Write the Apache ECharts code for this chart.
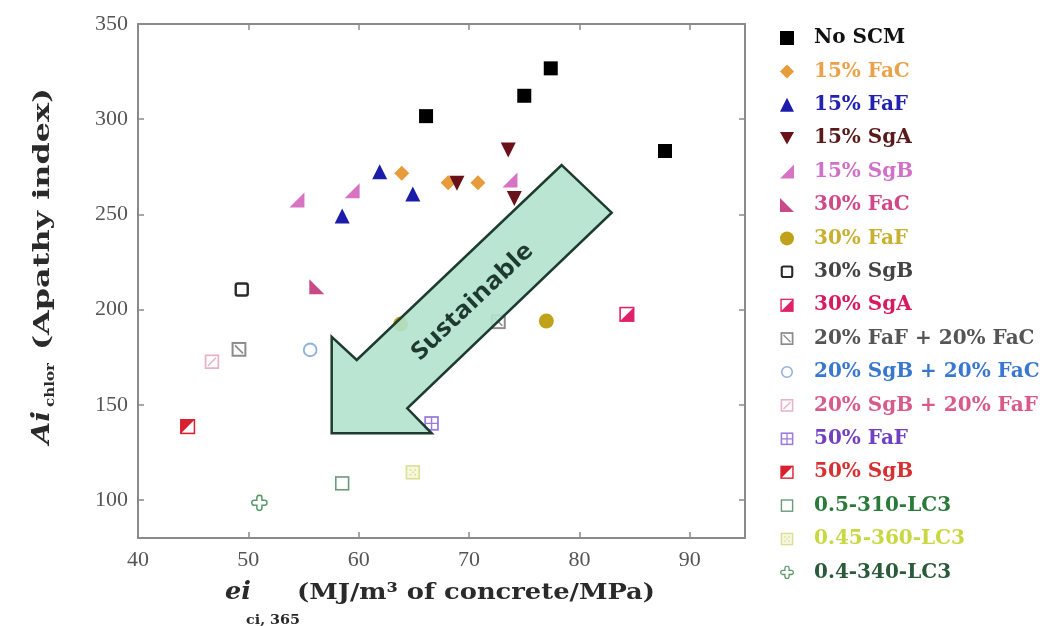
<!DOCTYPE html>
<html><head><meta charset="utf-8">
<script src="https://cdn.jsdelivr.net/npm/echarts@6/dist/echarts.min.js"></script>
<style>html,body{margin:0;padding:0;background:#fff}#c{width:1047px;height:626px}</style>
</head><body><div id="c"></div>
<script>
// ---------- data ----------
const seriesNames = ['No SCM','15% FaC','15% FaF','15% SgA','15% SgB','30% FaC','30% FaF','30% SgB','30% SgA',
  '20% FaF + 20% FaC','20% SgB + 20% FaC','20% SgB + 20% FaF','50% FaF','50% SgB','0.5-310-LC3','0.45-360-LC3','0.4-340-LC3'];
const noSCM      = [[66.1,301.6],[75.0,312.3],[77.4,326.7],[87.75,283.3]];
const faC15      = [[63.9,271.6],[68.1,266.6],[70.8,266.6]];
const faF15      = [[61.9,272.4],[64.9,260.7],[58.5,249.1]];
const sgA15      = [[73.55,283.8],[68.9,266.3],[74.1,258.4]];
const sgB15      = [[54.4,257.5],[59.4,262.4],[73.7,268.1]];
const faC30      = [[56.2,212.0]];
const faF30      = [[63.8,192.4],[77.0,194.0]];
const sgB30      = [[49.4,210.5]];
const sgA30      = [[84.3,197.5]];
const faF20faC20 = [[49.15,179.1],[72.65,193.6]];
const sgB20faC20 = [[55.6,178.8]];
const sgB20faF20 = [[46.7,172.6]];
const faF50      = [[66.6,140.2]];
const sgB50      = [[44.5,138.5]];
const lc3a       = [[58.5,108.7]];
const lc3b       = [[64.9,114.5]];
const lc3c       = [[51.0,98.5]];
const xTicks = [40,50,60,70,80,90];
const yTicks = [100,150,200,250,300,350];
// annotation arrow (data coordinates)
const arrowPts = [[78.39,275.9],[82.92,250.9],[64.40,148.1],[66.61,135.0],[57.55,135.0],[57.55,185.7],[59.82,173.5]];
const arrowLabel = 'Sustainable';
const arrowLabelAt = [70.3,204.1];

// ---------- symbols ----------
const SVG = body => 'image://data:image/svg+xml;charset=utf-8,' + encodeURIComponent(
  '<svg xmlns="http://www.w3.org/2000/svg" width="40" height="40" viewBox="0 0 20 20">' + body + '</svg>');
const sym = {
  sgB30: SVG('<rect x="2.5" y="2.5" width="15" height="15" rx="2.5" fill="#fff" stroke="#2a2a2a" stroke-width="3"/>'),
  sgA30: SVG('<rect x="1.5" y="1.5" width="17" height="17" fill="#fff" stroke="#e0206a" stroke-width="2"/><path d="M18.5 1.5 L18.5 18.5 L1.5 18.5 Z" fill="#e0206a"/>'),
  faF20faC20: SVG('<rect x="2" y="2" width="16" height="16" fill="#fff" stroke="#8c8c8c" stroke-width="2.5"/><path d="M5 5 L15 15" stroke="#8c8c8c" stroke-width="2"/>'),
  sgB20faC20: SVG('<circle cx="10" cy="10" r="7.5" fill="#fff" stroke="#8fb0dc" stroke-width="2.2"/>'),
  sgB20faF20: SVG('<rect x="2" y="2" width="16" height="16" fill="#fff" stroke="#eab2c8" stroke-width="2.2"/><path d="M5 15 L15 5" stroke="#eab2c8" stroke-width="2"/>'),
  faF50: SVG('<rect x="2" y="2" width="16" height="16" fill="#fff" stroke="#9a7ae0" stroke-width="2.2"/><path d="M10 2 V18 M2 10 H18" stroke="#9a7ae0" stroke-width="1.8"/>'),
  sgB50: SVG('<rect x="1.5" y="1.5" width="17" height="17" fill="#fff" stroke="#d8202e" stroke-width="2"/><path d="M1.5 1.5 L18.5 1.5 L1.5 18.5 Z" fill="#d8202e"/>'),
  lc3a: SVG('<rect x="2" y="2" width="16" height="16" fill="#fff" stroke="#6a9a7a" stroke-width="2"/>'),
  lc3b: SVG('<rect x="2" y="2" width="16" height="16" fill="#f6f8de" stroke="#d9e096" stroke-width="2"/><g fill="#d9e096"><circle cx="7" cy="7" r="1.2"/><circle cx="13" cy="7" r="1.2"/><circle cx="7" cy="13" r="1.2"/><circle cx="13" cy="13" r="1.2"/><circle cx="10" cy="10" r="1.2"/></g>'),
  lc3c: SVG('<path d="M7 7 V4 A3 3 0 0 1 13 4 V7 H16 A3 3 0 0 1 16 13 H13 V16 A3 3 0 0 1 7 16 V13 H4 A3 3 0 0 1 4 7 Z" fill="#fff" stroke="#5a9a6a" stroke-width="1.8"/>')
};

const seriesDefs = [
  [noSCM, 'rect', '#000000', 14],
  [faC15, 'diamond', '#e89b3a', 15],
  [faF15, 'triangle', '#1c1caa', 15],
  [sgA15, 'path://M0,0 L10,0 L5,9 Z', '#6a1018', 15],
  [sgB15, 'path://M10,0 L10,10 L0,10 Z', '#d872c2', 15],
  [faC30, 'path://M0,0 L0,10 L10,10 Z', '#c94a88', 15],
  [faF30, 'circle', '#bfa21a', 15],
  [sgB30, sym.sgB30, '#2a2a2a', 16],
  [sgA30, sym.sgA30, '#e0206a', 16],
  [faF20faC20, sym.faF20faC20, '#8c8c8c', 16],
  [sgB20faC20, sym.sgB20faC20, '#8fb0dc', 17],
  [sgB20faF20, sym.sgB20faF20, '#eab2c8', 16],
  [faF50, sym.faF50, '#9a7ae0', 16],
  [sgB50, sym.sgB50, '#d8202e', 16],
  [lc3a, sym.lc3a, '#6a9a7a', 16],
  [lc3b, sym.lc3b, '#d9e096', 16],
  [lc3c, sym.lc3c, '#5a9a6a', 17]
];
const legendColors = ['#111111','#eaa24a','#2222b0','#5a1a1a','#d070c8','#d04888','#c8b030','#444444','#d81b60',
  '#555555','#3a78d0','#d85a8a','#7040c0','#d83030','#2a7a3a','#c8d840','#2a5a3a'];

// ---------- chart ----------
const chart = echarts.init(document.getElementById('c'), null, {renderer:'canvas'});
const axisColor = '#8a8a8a';
const tickStyle = (vals) => ({show:true, inside:true, length:6, customValues:vals, lineStyle:{color:axisColor, width:1.5}});
const lineStyle = {show:true, lineStyle:{color:axisColor, width:2}};
const labelFont = {fontFamily:'"Liberation Serif", serif', fontSize:22, color:'#555'};

chart.setOption({
  animation:false,
  backgroundColor:'#fff',
  grid:{left:138, top:24, right:302, bottom:88, containLabel:false},
  xAxis:[
    {type:'value', min:40, max:95, position:'bottom', axisLine:lineStyle, axisTick:tickStyle(xTicks),
     axisLabel:Object.assign({margin:11, customValues:xTicks}, labelFont), splitLine:{show:false}},
    {type:'value', min:40, max:95, position:'top', axisLine:lineStyle, axisTick:tickStyle(xTicks),
     axisLabel:{show:false}, splitLine:{show:false}}
  ],
  yAxis:[
    {type:'value', min:80, max:350, position:'left', axisLine:lineStyle, axisTick:tickStyle(yTicks),
     axisLabel:Object.assign({margin:10, customValues:yTicks}, labelFont), splitLine:{show:false}},
    {type:'value', min:80, max:350, position:'right', axisLine:lineStyle, axisTick:tickStyle(yTicks),
     axisLabel:{show:false}, splitLine:{show:false}}
  ],
  legend:{
    orient:'vertical', left:775, top:23, itemWidth:14, itemHeight:14, itemGap:13.4, selectedMode:false,
    textStyle:{fontFamily:'"DejaVu Serif", serif', fontWeight:'bold', fontSize:20, lineHeight:20, padding:[0,0,0,15]},
    data: seriesNames.map((n,i)=>({name:n, textStyle:{color:legendColors[i]}}))
  },
  series: seriesDefs.map((d,i)=>({
    type:'scatter', name:seriesNames[i], data:d[0], symbol:d[1], symbolSize:d[3],
    itemStyle:{color:d[2], opacity:1}, z:2
  }))
});

// ---------- annotations ----------
const px = p => chart.convertToPixel({xAxisIndex:0, yAxisIndex:0}, p);
const mctx = document.createElement('canvas').getContext('2d');
const tw = (t, f) => { mctx.font = f; return mctx.measureText(t).width; };
const fit = (t, f, w) => w / tw(t, f);

const poly = arrowPts.map(px);
const lc = px(arrowLabelAt);
const pa = px(arrowPts[6]), pb = px(arrowPts[0]);
const ang = Math.atan2(pa[1]-pb[1], pb[0]-pa[0]);
const sFont = 'bold 24px "Open Sans"';

const fAi = 'italic bold 24px "DejaVu Serif"';
const fSub = 'bold 13px "DejaVu Serif"';
const fMain = 'bold 22px "DejaVu Serif"';
const yMain = '(Apathy index)';
const xMain = '(MJ/m\u00b3 of concrete/MPa)';

chart.setOption({
  graphic:[
    {type:'polygon', z:10, shape:{points:poly},
     style:{fill:'rgba(178,226,205,0.9)', stroke:'#1e3b30', lineWidth:2.5, lineJoin:'miter'}},
    {type:'text', z:11, x:lc[0], y:lc[1], rotation:ang, scaleX:fit(arrowLabel, sFont, 158),
     style:{text:arrowLabel, font:sFont, fill:'#1e3a30', align:'center', verticalAlign:'middle'}},
    // y-axis title
    {type:'group', x:43, y:444, rotation:Math.PI/2, children:[
      {type:'text', x:0, y:0, scaleX:fit('Ai', fAi, 33), style:{text:'Ai', font:fAi, fill:'#2a2a2a', align:'left', verticalAlign:'middle'}},
      {type:'text', x:37, y:8, scaleX:fit('chlor', fSub, 44), style:{text:'chlor', font:fSub, fill:'#2a2a2a', align:'left', verticalAlign:'middle'}},
      {type:'text', x:94, y:0, scaleX:fit(yMain, fMain, 262), style:{text:yMain, font:fMain, fill:'#2a2a2a', align:'left', verticalAlign:'middle'}}
    ]},
    // x-axis title
    {type:'text', x:225, y:593, scaleX:fit('ei', fAi, 26), style:{text:'ei', font:fAi, fill:'#2a2a2a', align:'left', verticalAlign:'middle'}},
    {type:'text', x:246, y:621, scaleX:fit('ci, 365', fSub, 54), style:{text:'ci, 365', font:fSub, fill:'#2a2a2a', align:'left', verticalAlign:'middle'}},
    {type:'text', x:297, y:593, scaleX:fit(xMain, fMain, 358), style:{text:xMain, font:fMain, fill:'#2a2a2a', align:'left', verticalAlign:'middle'}}
  ]
});
</script>
</body></html>
